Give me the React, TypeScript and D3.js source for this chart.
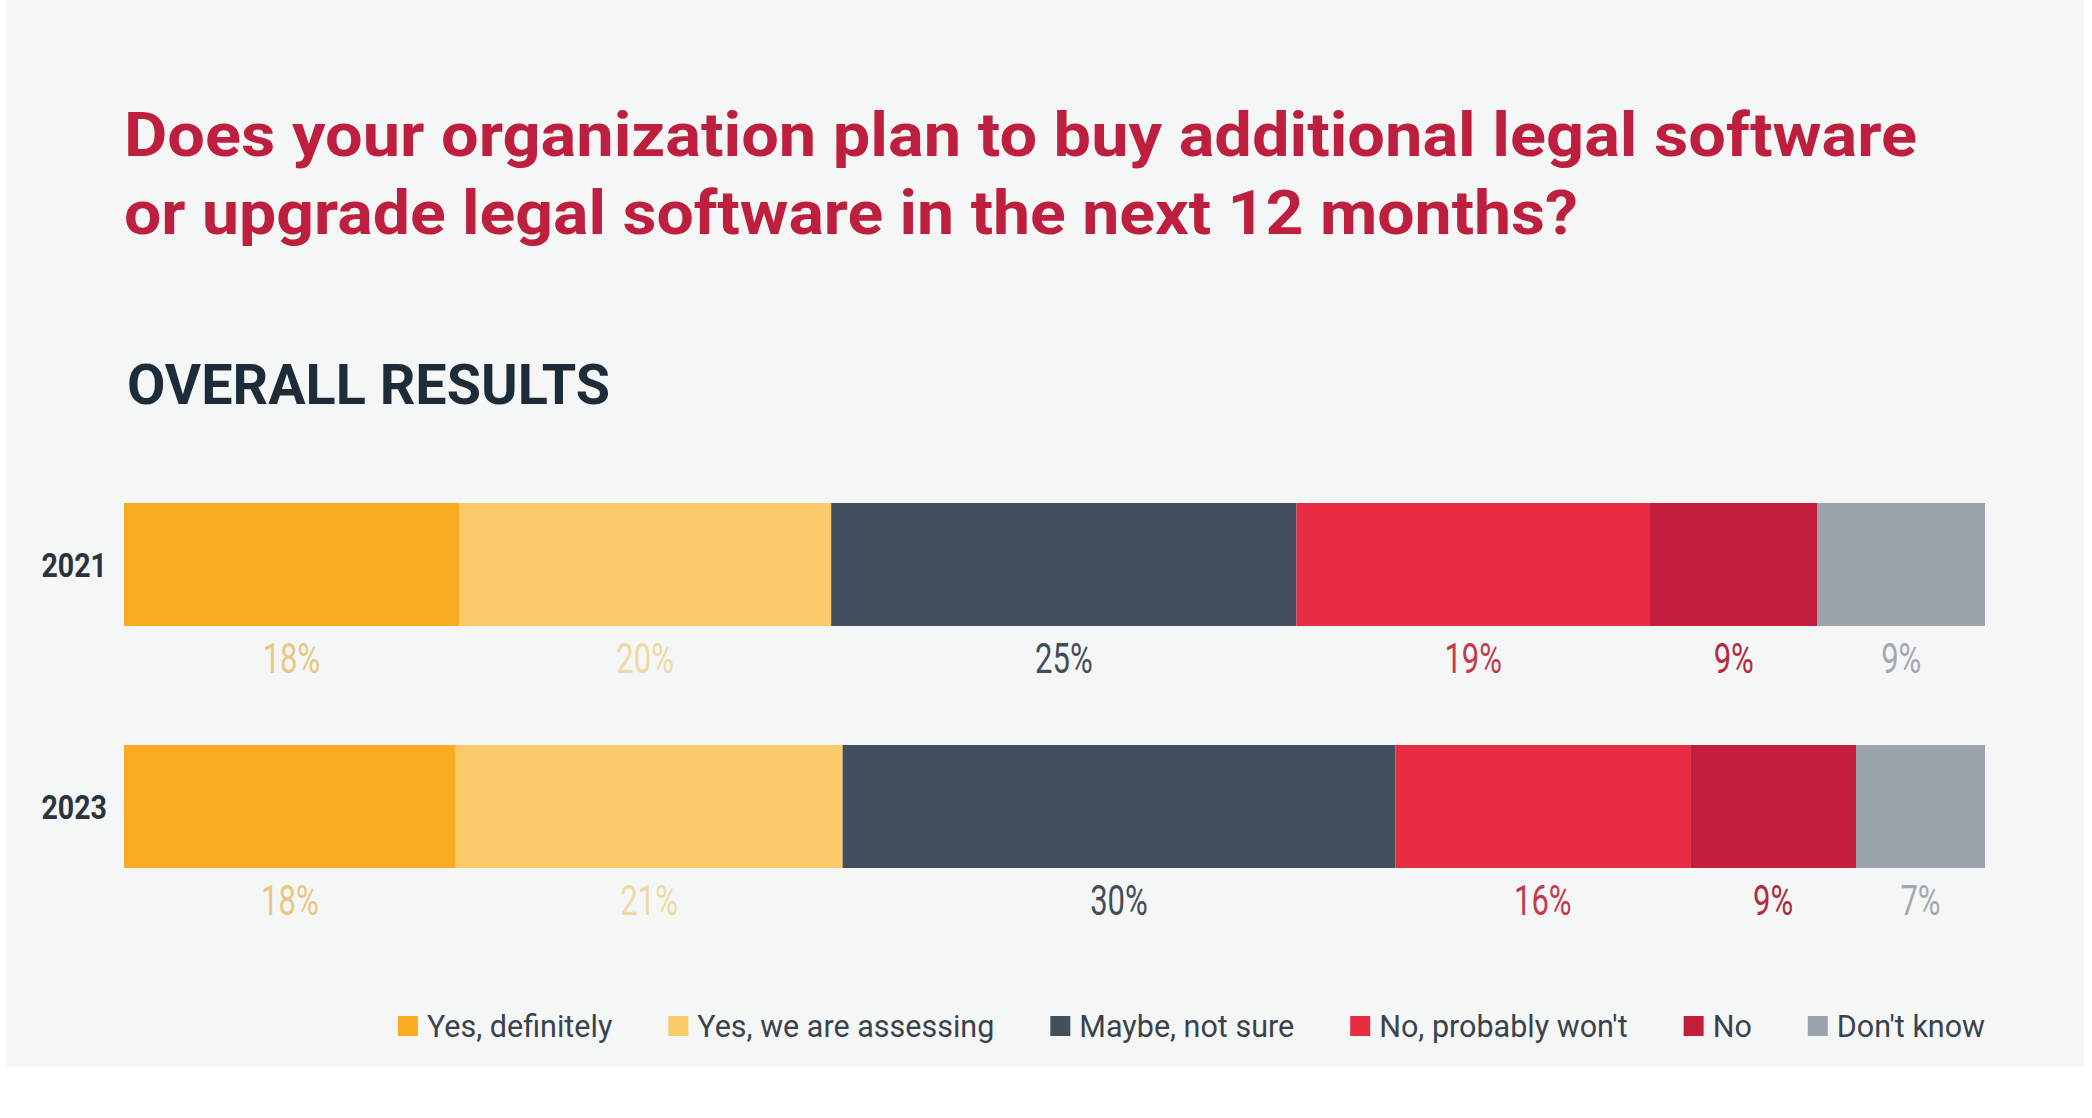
import React, { useEffect, useRef } from "react";
import * as d3 from "d3";

const years = ["2021", "2023"];
const categories = ["Yes, definitely", "Yes, we are assessing", "Maybe, not sure", "No, probably won't", "No", "Don't know"];
const values2021 = [18, 20, 25, 19, 9, 9];
const values2023 = [18, 21, 30, 16, 9, 7];
const barColors = ["#F9AB22", "#FBCA69", "#434F5D", "#E82C42", "#C31E3B", "#9BA3AC"];
const labelColors = ["#E9C684", "#EFD9A2", "#444C56", "#C43A4D", "#B32A40", "#A4A9AF"];
const titleLines = ["Does your organization plan to buy additional legal software", "or upgrade legal software in the next 12 months?"];
const subtitle = "OVERALL RESULTS";

const W = 2092;
const H = 1118;

export default function App() {
  const ref = useRef<SVGSVGElement | null>(null);

  useEffect(() => {
    const svg = d3.select(ref.current);
    svg.selectAll("*").remove();

    svg.append("rect").attr("x", 0).attr("y", 0).attr("width", W).attr("height", H).attr("fill", "#FFFFFF");
    svg.append("rect").attr("x", 6).attr("y", 0).attr("width", W - 14).attr("height", 1067).attr("fill", "#F5F7F7");

    const left = 124;
    const right = 1985;

    // Title
    const titleLens = [1793, 1454];
    titleLines.forEach((t, i) => {
      svg.append("text")
        .attr("x", left)
        .attr("y", 156 + i * 78)
        .attr("font-family", "Roboto, 'DejaVu Sans', sans-serif")
        .attr("font-weight", 700)
        .attr("font-size", 62)
        .attr("fill", "#BE1F3E")
        .attr("textLength", titleLens[i])
        .attr("lengthAdjust", "spacingAndGlyphs")
        .text(t);
    });

    svg.append("text")
      .attr("x", 127)
      .attr("y", 404)
      .attr("font-family", "Roboto, 'DejaVu Sans', sans-serif")
      .attr("font-weight", 700)
      .attr("font-size", 56)
      .attr("fill", "#1E2C3A")
      .attr("textLength", 483)
      .attr("lengthAdjust", "spacingAndGlyphs")
      .text(subtitle);

    const y = d3.scaleBand<string>().domain(years).range([503, 868]).paddingInner(0.4917).paddingOuter(0);
    const rows = [values2021, values2023];

    rows.forEach((vals, ri) => {
      const total = d3.sum(vals);
      const x = d3.scaleLinear().domain([0, total]).range([left, right]);
      const stack = d3.cumsum(vals);
      const g = svg.append("g");
      const y0 = y(years[ri]) as number;
      const bw = y.bandwidth();
      vals.forEach((v, i) => {
        const s = i === 0 ? 0 : stack[i - 1];
        const x0 = x(s);
        const x1 = x(s + v);
        g.append("rect")
          .attr("x", x0)
          .attr("y", y0)
          .attr("width", x1 - x0)
          .attr("height", bw)
          .attr("fill", barColors[i]);
        g.append("text")
          .attr("transform", `translate(${(x0 + x1) / 2},${y0 + bw + 47}) scale(0.74,1)`)
          .attr("text-anchor", "middle")
          .attr("font-family", "Roboto, sans-serif")
          .attr("font-size", 42)
          .attr("fill", labelColors[i])
          .text(`${v}%`);
      });
      svg.append("text")
        .attr("transform", `translate(107,${y0 + bw / 2}) scale(0.84,1)`)
        .attr("dy", "0.36em")
        .attr("text-anchor", "end")
        .attr("font-family", "Roboto, sans-serif")
        .attr("font-weight", 700)
        .attr("font-size", 34)
        .attr("fill", "#2B333D")
        .text(years[ri]);
    });

    // Legend, right-aligned to bar end
    const lg = svg.append("g");
    const items = categories.map((c, i) => {
      const it = lg.append("g");
      it.append("rect").attr("width", 20).attr("height", 20).attr("y", -10).attr("fill", barColors[i]);
      const t = it.append("text")
        .attr("x", 29)
        .attr("dy", "0.35em")
        .attr("font-family", "Roboto, sans-serif")
        .attr("font-size", 30.5)
        .attr("fill", "#3A434D")
        .text(c);
      const w = (t.node() as SVGTextElement).getComputedTextLength();
      return { it, w: 29 + w };
    });
    const gap = 56;
    const totalW = d3.sum(items, (d) => d.w) + gap * (items.length - 1);
    let cx = right - totalW;
    items.forEach((d) => {
      d.it.attr("transform", `translate(${cx},1026)`);
      cx += d.w + gap;
    });
  }, []);

  return (
    <svg ref={ref} width={W} height={H} style={{ display: "block", position: "absolute", left: 0, top: 0 }} />
  );
}
